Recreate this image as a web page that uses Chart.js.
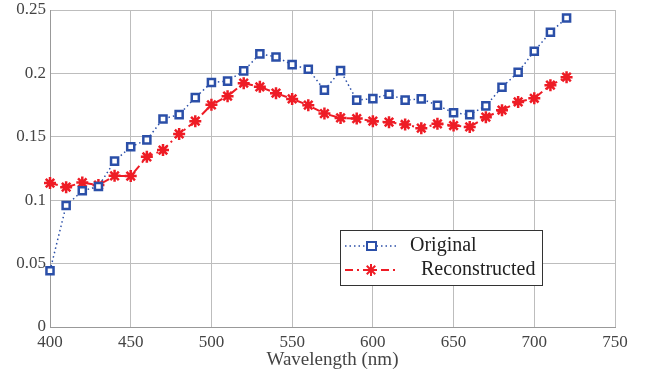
<!DOCTYPE html>
<html>
<head>
<meta charset="utf-8">
<script src="https://cdn.jsdelivr.net/npm/chart.js@4/dist/chart.umd.min.js"></script>
<style>
  html, body { margin: 0; padding: 0; background: #fff; }
  #wrap { width: 655px; height: 375px; position: relative; }
</style>
</head>
<body>
<div id="wrap"><canvas id="c" width="655" height="375"></canvas></div>
<script>
const wavelengths = [400,410,420,430,440,450,460,470,480,490,500,510,520,530,540,550,560,570,580,590,600,610,620,630,640,650,660,670,680,690,700,710,720];
const original = [0.0444,0.0958,0.1074,0.1108,0.1308,0.1421,0.1476,0.1641,0.1675,0.1809,0.1928,0.1939,0.2020,0.2154,0.2130,0.2069,0.2033,0.1868,0.2022,0.1789,0.1801,0.1836,0.1789,0.1799,0.1749,0.1689,0.1675,0.1744,0.1891,0.2009,0.2175,0.2325,0.2437];
const reconstructed = [0.1135,0.1103,0.1139,0.1119,0.1192,0.1190,0.1342,0.1395,0.1523,0.1623,0.1752,0.1820,0.1923,0.1894,0.1844,0.1799,0.1749,0.1683,0.1649,0.1644,0.1623,0.1615,0.1597,0.1568,0.1602,0.1589,0.1578,0.1655,0.1710,0.1775,0.1804,0.1907,0.1970];
const xTicks = [400,450,500,550,600,650,700,750];
const yTicks = [0,0.05,0.1,0.15,0.2,0.25];
const seriesNames = ['Original','Reconstructed'];
const xTitle = 'Wavelength (nm)';

const BLUE = '#2b4fa8';
const RED = '#ee1c25';
const FONT = '"Liberation Serif", "Times New Roman", serif';

const legendPlugin = {
  id: 'innerLegend',
  afterDraw(chart) {
    const ctx = chart.ctx;
    const x0 = 340, y0 = 230, w = 202, h = 55;
    ctx.save();
    ctx.fillStyle = '#fff';
    ctx.fillRect(x0, y0, w, h);
    ctx.strokeStyle = '#333';
    ctx.lineWidth = 1;
    ctx.strokeRect(x0 + 0.5, y0 + 0.5, w, h);
    // Original
    let ly = y0 + 16;
    ctx.strokeStyle = BLUE;
    ctx.lineWidth = 1.5;
    ctx.setLineDash([1.5, 3]);
    ctx.beginPath(); ctx.moveTo(x0 + 5, ly); ctx.lineTo(x0 + 57, ly); ctx.stroke();
    ctx.setLineDash([]);
    ctx.fillStyle = '#fff';
    ctx.fillRect(x0 + 27, ly - 4, 9, 8);
    ctx.lineWidth = 2;
    ctx.strokeRect(x0 + 27, ly - 4, 9, 8);
    ctx.fillStyle = '#222';
    ctx.font = '20px ' + FONT;
    ctx.textBaseline = 'middle';
    ctx.textAlign = 'left';
    ctx.fillText(seriesNames[0], x0 + 70, ly);
    // Reconstructed
    ly = y0 + 40;
    ctx.strokeStyle = RED;
    ctx.lineWidth = 2;
    ctx.setLineDash([8, 4, 2, 4]);
    ctx.beginPath(); ctx.moveTo(x0 + 5, ly); ctx.lineTo(x0 + 57, ly); ctx.stroke();
    ctx.setLineDash([]);
    const cx = x0 + 31, r = 6;
    ctx.lineWidth = 2;
    ctx.beginPath();
    for (let k = 0; k < 4; k++) {
      const a = k * Math.PI / 4;
      ctx.moveTo(cx - r * Math.cos(a), ly - r * Math.sin(a));
      ctx.lineTo(cx + r * Math.cos(a), ly + r * Math.sin(a));
    }
    ctx.stroke();
    ctx.fillStyle = '#222';
    ctx.fillText(seriesNames[1], x0 + 81, ly);
    ctx.restore();
  }
};

new Chart(document.getElementById('c'), {
  type: 'line',
  data: {
    datasets: [
      {
        label: seriesNames[0],
        data: wavelengths.map((x, i) => ({x, y: original[i]})),
        borderColor: BLUE,
        borderWidth: 1.5,
        borderDash: [1.5, 3],
        pointStyle: 'rect',
        pointRadius: 5,
        pointBorderWidth: 2.5,
        pointBorderColor: BLUE,
        pointBackgroundColor: '#fff',
        fill: false,
        tension: 0,
        clip: false
      },
      {
        label: seriesNames[1],
        data: wavelengths.map((x, i) => ({x, y: reconstructed[i]})),
        borderColor: RED,
        borderWidth: 2,
        borderDash: [8, 4, 2, 4],
        pointStyle: 'star',
        pointRadius: 6,
        pointBorderWidth: 2.5,
        pointBorderColor: RED,
        pointBackgroundColor: RED,
        fill: false,
        tension: 0,
        clip: false
      }
    ]
  },
  options: {
    responsive: false,
    animation: false,
    layout: { padding: { left: 0, right: 40, top: 10, bottom: 4 } },
    plugins: { legend: { display: false }, tooltip: { enabled: false } },
    scales: {
      x: {
        type: 'linear',
        min: 400, max: 750,
        afterBuildTicks: (s) => { s.ticks = xTicks.map(v => ({value: v})); },
        afterFit: (s) => { s.height = 44; s.paddingLeft = 0; s.paddingRight = 0; },
        ticks: { color: '#444', font: { family: FONT, size: 17 }, padding: 5, maxRotation: 0 },
        grid: { color: '#bdbdbd', lineWidth: 1, drawTicks: false },
        border: { color: '#999' },
        title: { display: true, text: xTitle, color: '#444', font: { family: FONT, size: 19 }, padding: { top: 0, bottom: 0 } }
      },
      y: {
        type: 'linear',
        min: 0, max: 0.25,
        afterBuildTicks: (s) => { s.ticks = yTicks.map(v => ({value: v})); },
        afterFit: (s) => { s.width = 50; s.paddingTop = 0; s.paddingBottom = 0; },
        ticks: { color: '#444', font: { family: FONT, size: 17 }, padding: 4, callback: (v) => String(+v.toFixed(2)) },
        grid: { color: '#bdbdbd', lineWidth: 1, drawTicks: false },
        border: { color: '#999' }
      }
    }
  },
  plugins: [legendPlugin]
});
</script>
</body>
</html>
